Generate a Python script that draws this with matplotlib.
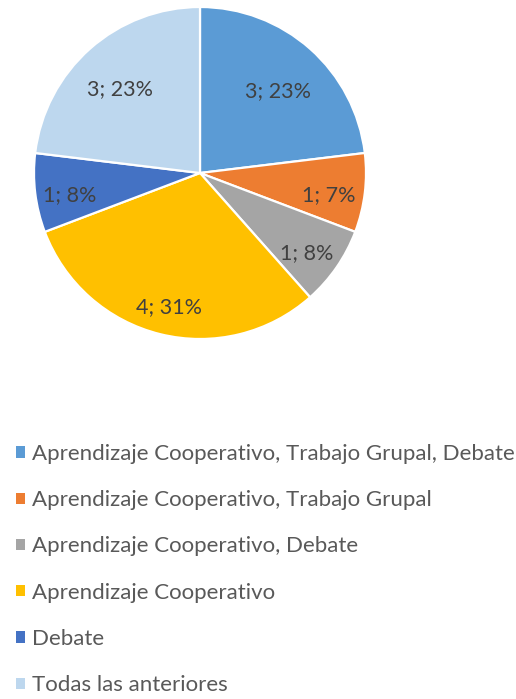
import matplotlib
matplotlib.use('Agg')
import matplotlib.pyplot as plt
from matplotlib.patches import Patch
import numpy as np

# slice data, in the order the chart draws them (clockwise from 12 o'clock)
categories = ['Aprendizaje Cooperativo, Trabajo Grupal, Debate',
              'Aprendizaje Cooperativo, Trabajo Grupal',
              'Aprendizaje Cooperativo, Debate',
              'Aprendizaje Cooperativo',
              'Debate',
              'Todas las anteriores']
counts = [3, 1, 1, 4, 1, 3]
pct_labels = ['23%', '7%', '8%', '31%', '8%', '23%']

colors = ['#5B9BD5', '#ED7D31', '#A5A5A5', '#FFC000', '#4472C4', '#BDD7EE']
label_dist = [0.71, 0.78, 0.78, 0.79, 0.79, 0.73]

plt.rcParams['font.family'] = ['Lato', 'DejaVu Sans']
text_color = '#404040'

W, H, DPI = 516, 699, 100
fig = plt.figure(figsize=[W / DPI, H / DPI], dpi=DPI)

# pie axes: centre (200,173) px, radius 166 px
cx, cy, r = 200, 173, 166
ax = fig.add_axes([(cx - r) / W, (H - cy - r) / H, 2 * r / W, 2 * r / H])
wedges, _ = ax.pie(counts, colors=colors, startangle=90, counterclock=False,
                   radius=1, wedgeprops=dict(edgecolor='white', linewidth=1.6))
ax.set_xlim(-1, 1)
ax.set_ylim(-1, 1)
ax.set_aspect('equal')
ax.axis('off')

# data labels "value; percent" (slightly below the wedge centre, as Excel does)
for w, n, p, d in zip(wedges, counts, pct_labels, label_dist):
    ang = np.deg2rad((w.theta1 + w.theta2) / 2)
    ax.text(d * np.cos(ang), d * np.sin(ang) - 0.04, f'{n}; {p}', ha='center',
            va='center', fontsize=15.5, color=text_color)

# legend below the pie
handles = [Patch(facecolor=c, edgecolor='none') for c in colors]
fig.legend(handles, categories, loc='upper left', bbox_to_anchor=(16 / W, 1 - 444 / H),
           frameon=False, fontsize=16, labelcolor='#595959', handlelength=0.4,
           handleheight=0.4, handletextpad=0.32, labelspacing=1.18, borderpad=0,
           borderaxespad=0)

fig.savefig('out.png', dpi=DPI, facecolor='white')
